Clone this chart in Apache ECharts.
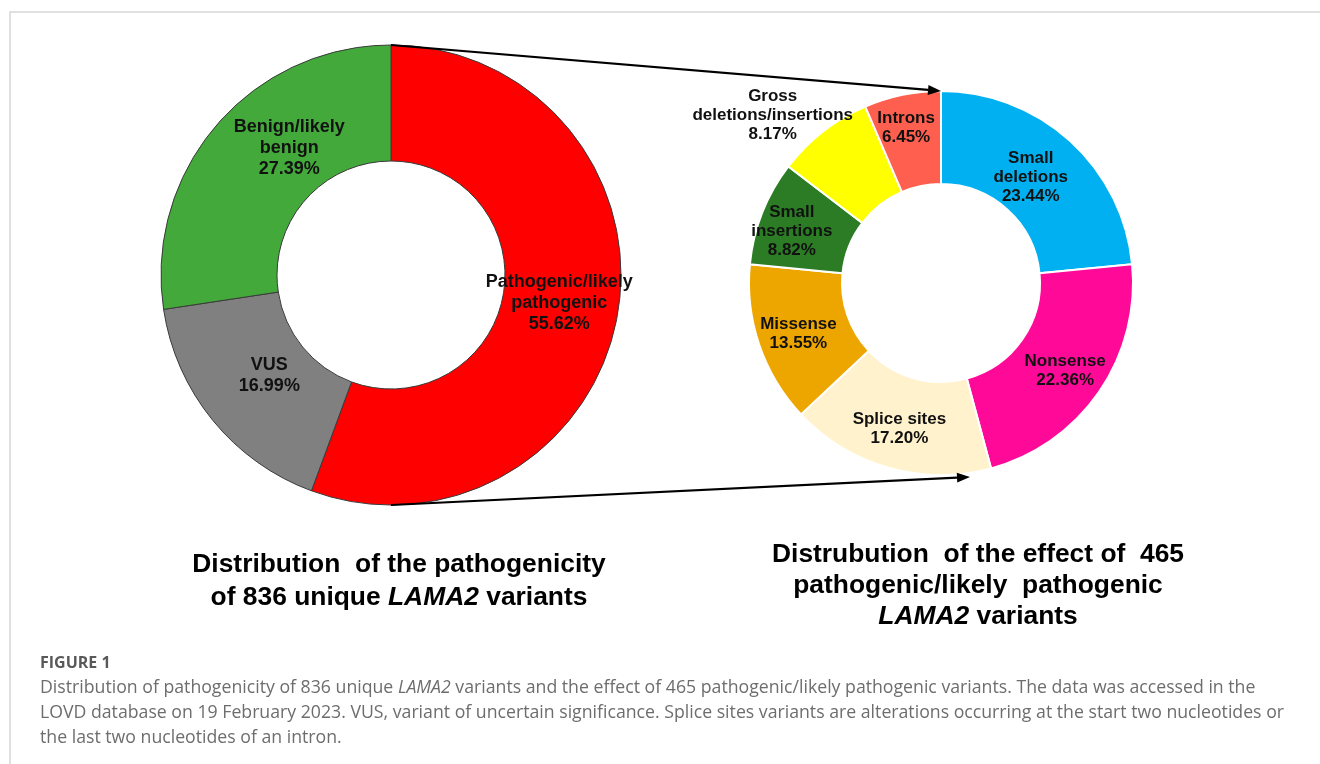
<!DOCTYPE html>
<html>
<head>
<meta charset="utf-8">
<script src="https://cdn.jsdelivr.net/npm/echarts@6/dist/echarts.min.js"></script>
<style>
html,body{margin:0;padding:0;background:#fff;}
#chart{width:1320px;height:764px;}
</style>
</head>
<body>
<div id="chart"></div>
<script>
// ---- data ----
const pathCategories = ['Pathogenic/likely\npathogenic', 'VUS', 'Benign/likely\nbenign'];
const pathValues = [55.62, 16.99, 27.39];
const pathColors = ['#FF0000', '#808080', '#43A93A'];

const effectCategories = ['Small\ndeletions', 'Nonsense', 'Splice sites', 'Missense', 'Small\ninsertions', 'Gross\ndeletions/insertions', 'Introns'];
const effectValues = [23.44, 22.36, 17.20, 13.55, 8.82, 8.17, 6.45];
const effectColors = ['#00B0F0', '#FF0A98', '#FFF2CC', '#EDA600', '#2B7C24', '#FFFF00', '#FF5F4F'];

const leftTitleLines = ['Distribution  of the pathogenicity', 'of 836 unique {i|LAMA2} variants'];
const rightTitleLines = ['Distrubution  of the effect of  465', 'pathogenic/likely  pathogenic', '{i|LAMA2} variants'];
const figureLabel = 'FIGURE 1';
const captionLines = [
  'Distribution of pathogenicity of 836 unique {i|LAMA2} variants and the effect of 465 pathogenic/likely pathogenic variants. The data was accessed in the',
  'LOVD database on 19 February 2023. VUS, variant of uncertain significance. Splice sites variants are alterations occurring at the start two nucleotides or',
  'the last two nucleotides of an intron.'
];

// ---- layout ----
const L = {cx: 391, cy: 275, r0: 114, r: 230};
const R = {cx: 941, cy: 283, r0: 99, r: 192};
const leftNudge = [[-4, -3], [14, -10], [31, -13]];
const rightNudge = [[-10, 4], [2, 3], [-1, 3], [-2, 3], [-11, 3], [-77, -51], [-5, -10]];

const chart = echarts.init(document.getElementById('chart'), null, {renderer: 'canvas'});

function arrow(x1, y1, x2, y2) {
  const ang = Math.atan2(y2 - y1, x2 - x1);
  const len = 13, half = 5;
  const bx = x2 - len * Math.cos(ang), by = y2 - len * Math.sin(ang);
  const px = -Math.sin(ang) * half, py = Math.cos(ang) * half;
  return [
    {type: 'line', shape: {x1: x1, y1: y1, x2: bx, y2: by}, style: {stroke: '#000', lineWidth: 2.2}, z: 10},
    {type: 'polygon', shape: {points: [[x2, y2], [bx + px, by + py], [bx - px, by - py]]}, style: {fill: '#000'}, z: 10}
  ];
}

const labelFont = 'Liberation Sans, Arial, sans-serif';
const capFont = 'Open Sans, sans-serif';
const titleSize = 26.4;
const capSize = 17.7;
const titleRich = {
  i: {fontFamily: labelFont, fontWeight: 'bold', fontStyle: 'italic', fontSize: titleSize, color: '#000'}
};
const capRich = {
  i: {fontFamily: capFont, fontStyle: 'italic', fontSize: capSize, color: '#6d6d6d'}
};

const titles = [];
leftTitleLines.forEach((t, k) => titles.push({
  text: t, left: 394, top: 547 + k * 33, textAlign: 'center',
  textStyle: {fontFamily: labelFont, fontWeight: 'bold', fontSize: titleSize, color: '#000', rich: titleRich}
}));
rightTitleLines.forEach((t, k) => titles.push({
  text: t, left: 973, top: 537 + k * 31, textAlign: 'center',
  textStyle: {fontFamily: labelFont, fontWeight: 'bold', fontSize: titleSize, color: '#000', rich: titleRich}
}));
titles.push({
  text: figureLabel, left: 35, top: 650,
  textStyle: {fontFamily: capFont, fontWeight: 'bold', fontSize: 16, color: '#595959'}
});
captionLines.forEach((t, k) => titles.push({
  text: t, left: 35, top: 674 + k * 25,
  textStyle: {fontFamily: capFont, fontWeight: 'normal', fontSize: capSize, color: '#6d6d6d', rich: capRich}
}));

const option = {
  backgroundColor: '#ffffff',
  animation: false,
  title: titles,
  graphic: [
    {type: 'rect', shape: {x: 10, y: 12, width: 1400, height: 800}, style: {fill: 'none', stroke: '#d6d6d6', lineWidth: 1.5}, z: 0}
  ].concat(
    arrow(L.cx, L.cy - L.r, R.cx, R.cy - R.r),
    arrow(L.cx, L.cy + L.r, R.cx + 29, R.cy + R.r + 2)
  ),
  series: [
    {
      type: 'pie',
      center: [L.cx, L.cy],
      radius: [L.r0, L.r],
      startAngle: 90,
      clockwise: true,
      silent: true,
      data: pathCategories.map((n, i) => ({name: n, value: pathValues[i], itemStyle: {color: pathColors[i]}})),
      itemStyle: {borderColor: '#3a3a3a', borderWidth: 1},
      label: {
        show: true, position: 'inside',
        formatter: p => p.name + '\n' + p.value.toFixed(2) + '%',
        fontFamily: labelFont, fontWeight: 'bold', fontSize: 18, lineHeight: 21, color: '#111'
      },
      labelLine: {show: false},
      labelLayout: p => ({dx: leftNudge[p.dataIndex][0], dy: leftNudge[p.dataIndex][1]})
    },
    {
      type: 'pie',
      center: [R.cx, R.cy],
      radius: [R.r0, R.r],
      startAngle: 90,
      clockwise: true,
      silent: true,
      data: effectCategories.map((n, i) => ({name: n, value: effectValues[i], itemStyle: {color: effectColors[i]}})),
      itemStyle: {borderColor: '#ffffff', borderWidth: 2},
      label: {
        show: true, position: 'inside',
        formatter: p => p.name + '\n' + p.value.toFixed(2) + '%',
        fontFamily: labelFont, fontWeight: 'bold', fontSize: 17, lineHeight: 19, color: '#111'
      },
      labelLine: {show: false},
      labelLayout: p => ({dx: rightNudge[p.dataIndex][0], dy: rightNudge[p.dataIndex][1]})
    }
  ]
};
chart.setOption(option);
</script>
</body>
</html>
